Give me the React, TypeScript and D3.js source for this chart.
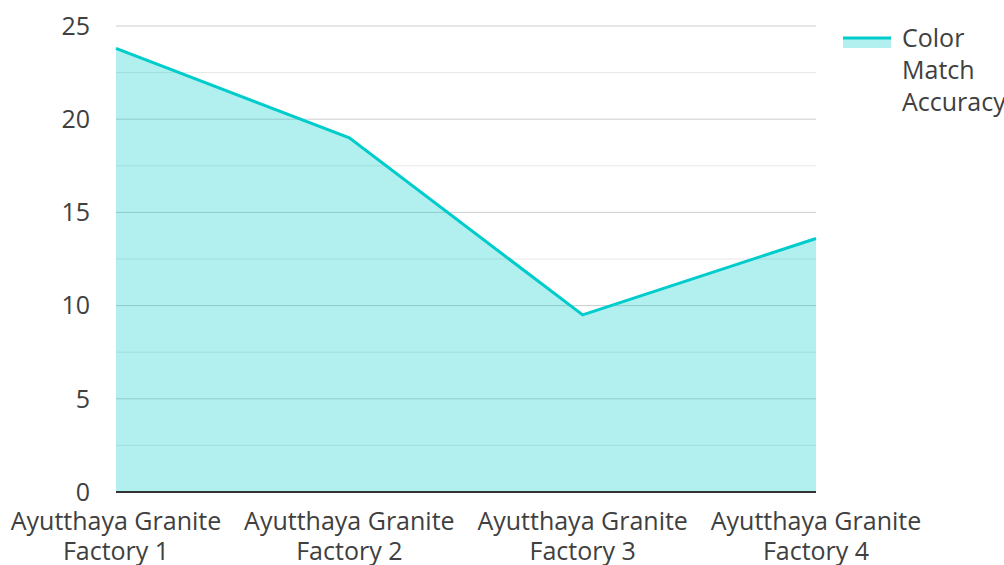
import * as d3 from "d3"

const categories = [
  "Ayutthaya Granite Factory 1",
  "Ayutthaya Granite Factory 2",
  "Ayutthaya Granite Factory 3",
  "Ayutthaya Granite Factory 4",
]
const labelLines = [
  ["Ayutthaya Granite", "Factory 1"],
  ["Ayutthaya Granite", "Factory 2"],
  ["Ayutthaya Granite", "Factory 3"],
  ["Ayutthaya Granite", "Factory 4"],
]
const accuracy = [23.8, 19.0, 9.5, 13.6]
const yTicks = [0, 5, 10, 15, 20, 25]
const minorTicks = [2.5, 7.5, 12.5, 17.5, 22.5]
const seriesName = ["Color", "Match", "Accuracy"]

const W = 1004
const H = 565
const left = 116
const right = 816
const top = 26
const bottom = 492
const font = "'Open Sans', 'Noto Sans', sans-serif"
const teal = "#00cccc"

export default function App() {
  const x = d3.scalePoint<string>().domain(categories).range([left, right])
  const y = d3.scaleLinear().domain([0, 25]).range([bottom, top])

  const area = d3.area<number>()
    .x((_, i) => x(categories[i]) as number)
    .y0(y(0))
    .y1(d => y(d))
  const line = d3.line<number>()
    .x((_, i) => x(categories[i]) as number)
    .y(d => y(d))

  return (
    <svg width={W} height={H} style={{ position: "absolute", left: 0, top: 0 }}>
      <rect width={W} height={H} fill="#fff" />
      {minorTicks.map(t => (
        <line key={"m" + t} x1={left} x2={right} y1={y(t)} y2={y(t)} stroke="#e6e6e6" strokeWidth={1} />
      ))}
      {yTicks.filter(t => t > 0).map(t => (
        <line key={"g" + t} x1={left} x2={right} y1={y(t)} y2={y(t)} stroke="#cccccc" strokeWidth={1} />
      ))}
      <path d={area(accuracy) || ""} fill={teal} fillOpacity={0.3} />
      <path d={line(accuracy) || ""} fill="none" stroke={teal} strokeWidth={3} strokeLinejoin="miter" />
      <line x1={left} x2={right} y1={y(0)} y2={y(0)} stroke="#333" strokeWidth={2} />
      {yTicks.map(t => (
        <text key={"t" + t} x={90} y={y(t)} dy="0.35em" textAnchor="end" fontFamily={font} fontSize={25} fill="#404040">
          {t}
        </text>
      ))}
      {labelLines.map((lines, i) => (
        <text key={"c" + i} x={x(categories[i]) as number} y={530} textAnchor="middle" fontFamily={font} fontSize={25} fill="#404040">
          {lines.map((s, j) => (
            <tspan key={j} x={x(categories[i]) as number} dy={j === 0 ? 0 : 30}>{s}</tspan>
          ))}
        </text>
      ))}
      <rect x={843} y={37} width={48} height={11} fill={teal} fillOpacity={0.3} />
      <line x1={843} x2={891} y1={38} y2={38} stroke={teal} strokeWidth={3} />
      {seriesName.map((s, i) => (
        <text key={s} x={902} y={38 + i * 32} dy="0.35em" fontFamily={font} fontSize={25} fill="#404040">{s}</text>
      ))}
    </svg>
  )
}
